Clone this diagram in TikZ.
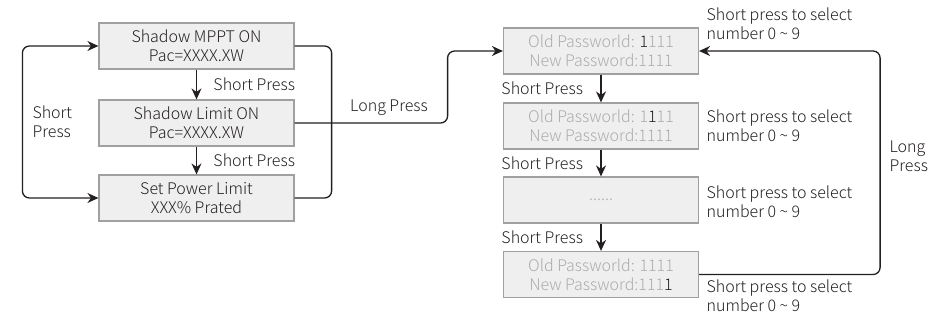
\documentclass[tikz,border=0pt]{standalone}
\usepackage{fontspec}
\setmainfont{Noto Sans CJK SC}[UprightFont={* Light}]
\usetikzlibrary{arrows.meta,calc}
\definecolor{ink}{RGB}{35,31,32}
\definecolor{boxline}{RGB}{160,160,160}
\definecolor{boxfill}{RGB}{239,239,239}
\definecolor{dimtext}{RGB}{172,172,172}

\begin{document}
\begin{tikzpicture}[
  x=1pt,y=-1pt,
  font=\fontsize{16}{19}\selectfont,
  flow/.style={-{Stealth[length=11pt,width=10pt]}, draw=ink, line width=1.3pt},
  loopline/.style={draw=ink, line width=1.3pt, rounded corners=7pt},
  menubox/.style={draw=boxline, fill=boxfill, line width=1.2pt,
                  minimum width=195pt, minimum height=46pt, inner sep=0pt,
                  align=center, text=ink},
  pwbox/.style={menubox, text=dimtext},
  hint/.style={anchor=west, align=left, text=ink}
]
\useasboundingbox (0,0) rectangle (950,320);

% Menu screens on the left.
\node[menubox] (mppt)  at (196.5,46)  {Shadow MPPT ON\\Pac=XXXX.XW};
\node[menubox] (limit) at (196.5,123) {Shadow Limit ON\\Pac=XXXX.XW};
\node[menubox] (setpw) at (196.5,198) {Set Power Limit\\XXX\% Prated};

\draw[flow] (mppt.south) -- (limit.north)
  node[hint, midway, xshift=13pt] {Short Press};
\draw[flow] (limit.south) -- (setpw.north)
  node[hint, midway, xshift=13pt] {Short Press};

\draw[loopline, {Stealth[length=11pt,width=10pt]}-{Stealth[length=11pt,width=10pt]}]
  (mppt.west) -- ++(-76,0) |- (setpw.west);
\node[hint] (leftlbl) at (29,122) {Short\\Press};
\draw[loopline] (mppt.east) -- ++(37,0) |- (setpw.east);

% Password screens on the right.
\node[pwbox] (pwa) at (601,51)
  {Old Passworld: \textcolor{ink}{1}111\\New Password:1111};
\node[pwbox] (pwb) at (601,126)
  {Old Passworld: 1\textcolor{ink}{1}11\\New Password:1111};
\node[pwbox] (pwc) at (601,200) {......};
\node[pwbox] (pwd) at (601,274.5)
  {Old Passworld: 1111\\New Password:111\textcolor{ink}{1}};

\draw[loopline, flow] (limit.east) -- ++(153,0) |- (pwa.west);
\node[text=ink] (longlbl) at (389,108) {Long Press};

\draw[flow] (pwa.south) -- (pwb.north)
  node[midway, anchor=east, xshift=-14pt, text=ink] {Short Press};
\draw[flow] (pwb.south) -- (pwc.north)
  node[midway, anchor=east, xshift=-14pt, text=ink] {Short Press};
\draw[flow] (pwc.south) -- (pwd.north)
  node[midway, anchor=east, xshift=-14pt, text=ink] {Short Press};

\node[hint] (selecta) at ($(pwa.east)+(4,-27)$) {Short press to select\\number 0 \textasciitilde{} 9};
\node[hint] (selectb) at ($(pwb.east)+(4,0)$) {Short press to select\\number 0 \textasciitilde{} 9};
\node[hint] (selectc) at ($(pwc.east)+(4,2)$) {Short press to select\\number 0 \textasciitilde{} 9};
\node[hint] (selectd) at ($(pwd.east)+(4,21)$) {Short press to select\\number 0 \textasciitilde{} 9};

\draw[loopline, flow] (pwd.east) -- ++(181,0) |- (pwa.east);
\node[hint] (rightlbl) at (886,156) {Long\\Press};

\end{tikzpicture}
\end{document}
